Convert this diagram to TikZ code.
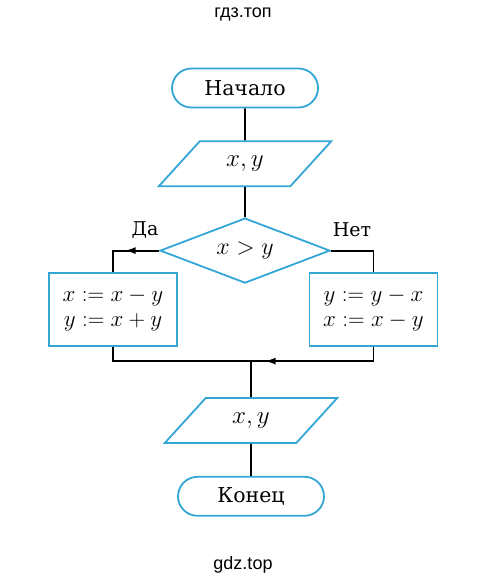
\RequirePackage{fix-cm}
\documentclass[tikz,border=0pt]{standalone}
\usepackage{fontspec}
\setmainfont{DejaVu Serif}
\newfontfamily\wmfont{Liberation Sans}
\usetikzlibrary{arrows.meta,positioning,shapes.geometric,decorations.markings}
\definecolor{fcblue}{HTML}{33A6D6}

\begin{document}
\begin{tikzpicture}[x=1pt,y=1pt,
term/.style={draw=fcblue,line width=1.8pt,rounded corners=19.5pt,
minimum width=146pt,minimum height=39pt,font=\fontsize{20.5}{24}\selectfont},
io/.style={trapezium,trapezium left angle=48,trapezium right angle=132,
trapezium stretches=true,draw=fcblue,line width=1.8pt,
minimum width=173pt,minimum height=45pt,font=\fontsize{25}{28}\selectfont},
cond/.style={diamond,aspect=2.6,draw=fcblue,line width=1.8pt,inner sep=0pt,
minimum width=170pt,minimum height=65pt,font=\fontsize{24}{28}\selectfont},
proc/.style={draw=fcblue,line width=1.8pt,minimum width=128pt,
minimum height=73pt,align=center,font=\fontsize{23}{25}\selectfont},
wire/.style={line width=1.8pt},
midarr/.style={wire,decoration={markings,
mark=at position #1 with {\arrow{Latex[length=11pt,width=7pt]}}},
postaction={decorate}},
lbl/.style={font=\fontsize{19}{22}\selectfont},
site/.style={font=\wmfont\fontsize{18}{20}\selectfont}
]
\useasboundingbox (0,0) rectangle (486,-582);

\node[site] (top) at (243,-14) {гдз.топ};
\node[term] (start) at (245,-88) {Начало};
\node[io,below=32pt of start] (inp) {$x, y$};
\node[cond,below=30pt of inp] (test) {$x > y$};
\node[proc] (yes) at (113,-309.5) {$x := x - y$\\$y := x + y$};
\node[proc] (no) at (373.5,-309.5) {$y := y - x$\\$x := x - y$};
\node[io] (outp) at (251,-420.5) {$x, y$};
\node[term,below=32pt of outp] (stop) {Конец};
\node[site] (bottom) at (243,-565) {gdz.top};

\node[lbl] (da) at (145,-230) {Да};
\node[lbl] (net) at (352,-230) {Нет};

\coordinate (join) at ([yshift=36pt]outp.north);

\foreach \a/\b in {start/inp,inp/test,outp/stop}
\draw[wire] (\a) -- (\b);
\draw[midarr=0.51] (test.west) -| (yes.north);
\draw[wire] (test.east) -| (no.north);
\draw[wire] (yes.south) |- (join);
\draw[midarr=0.9] (no.south) |- (join);
\draw[wire] (join) -- (outp.north);
\end{tikzpicture}
\end{document}
